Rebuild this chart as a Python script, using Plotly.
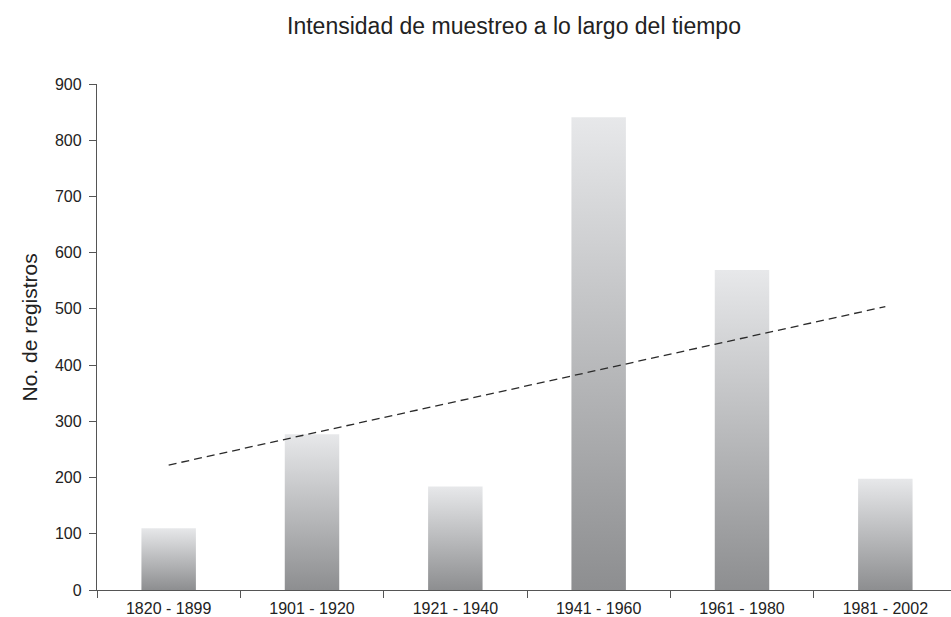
import numpy as np
import plotly.graph_objects as go

# ---- data ----
periods = ["1820 - 1899", "1901 - 1920", "1921 - 1940", "1941 - 1960", "1961 - 1980", "1981 - 2002"]
registros = [110, 277, 184, 841, 569, 198]
y_ticks = [0, 100, 200, 300, 400, 500, 600, 700, 800, 900]

title_text = "Intensidad de muestreo a lo largo del tiempo"
y_title = "No. de registros"

FONT = "Liberation Sans, Arial, sans-serif"
BAR_TOP = "#e7e8ea"
BAR_BOTTOM = "#8d8e90"
AXIS = "#555555"
half_w = 0.19

idx = np.arange(len(periods))

fig = go.Figure()

# gradient bars drawn as filled shapes on a numeric axis
for i, v in zip(idx, registros):
    fig.add_trace(go.Scatter(
        x=[i - half_w, i + half_w, i + half_w, i - half_w, i - half_w],
        y=[0, 0, v, v, 0],
        mode="lines",
        fill="toself",
        line=dict(width=0, color=BAR_BOTTOM),
        fillgradient=dict(type="vertical",
                          colorscale=[[0, BAR_BOTTOM], [1, BAR_TOP]]),
        hoverinfo="skip",
        showlegend=False,
    ))

# linear trend line computed from the data
slope, intercept = np.polyfit(idx, registros, 1)
trend_x = [idx[0], idx[-1]]
trend_y = [slope * x + intercept for x in trend_x]
fig.add_trace(go.Scatter(
    x=trend_x, y=trend_y, mode="lines",
    line=dict(color="#2a2a2a", width=1.3, dash="8px,5px"),
    showlegend=False, hoverinfo="skip",
))

boundaries = [i - 0.5 for i in range(len(periods))]

fig.update_layout(
    width=951, height=617,
    margin=dict(l=97, r=0, t=84, b=27),
    paper_bgcolor="white", plot_bgcolor="white",
    font=dict(family=FONT, color="#222222", size=16),
    title=dict(text=title_text, font=dict(size=23, family=FONT, color="#222222"),
               x=514 / 951, xref="container", xanchor="center",
               y=1 - 18 / 617, yref="container", yanchor="top"),
    xaxis=dict(
        range=[-0.5, 5.5 - 6 / 143.3],
        tickvals=list(idx), ticktext=periods,
        ticks="outside", ticklen=4, tickcolor="rgba(0,0,0,0)",
        tickfont=dict(size=16, family=FONT, color="#222222"),
        showline=True, linecolor=AXIS, linewidth=1.3,
        showgrid=False, zeroline=False, automargin=False,
        minor=dict(tickvals=boundaries, ticks="outside", ticklen=7,
                   tickcolor=AXIS, tickwidth=1.3, showgrid=False),
    ),
    yaxis=dict(
        range=[0, 900],
        tickvals=y_ticks,
        ticks="outside", ticklen=7, tickcolor=AXIS, tickwidth=1.3,
        ticklabelstandoff=4,
        tickfont=dict(size=16, family=FONT, color="#222222"),
        showline=True, linecolor=AXIS, linewidth=1.3,
        showgrid=False, zeroline=False, automargin=False,
    ),
    annotations=[dict(
        text=y_title, textangle=-90, showarrow=False,
        xref="paper", yref="paper",
        x=(29 - 97) / 854, y=(590.5 - 328) / 506,
        xanchor="center", yanchor="middle",
        font=dict(size=21, family=FONT, color="#222222"),
    )],
)

fig.write_html(
    "out.html",
    config={"displayModeBar": False},
    post_script="document.body.style.margin='0px';document.body.style.overflow='hidden';",
)
